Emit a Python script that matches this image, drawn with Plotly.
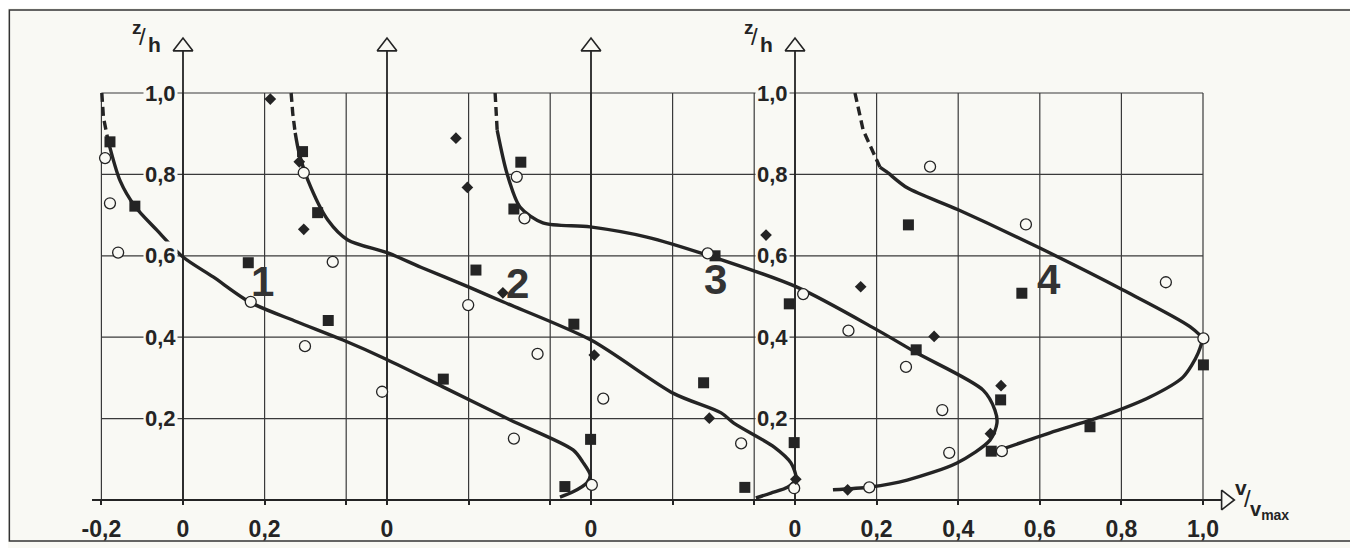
import plotly.graph_objects as go

PAPER = "#f9f9f4"
INK = "#242424"
FONT = "Liberation Sans, Arial, sans-serif"

# each profile sits on its own zero line along the shared v/vmax axis
offsets = [-1.5, -1.0, -0.5, 0.0]

# ---- profile 1
p1_dash_v = [-0.199, -0.195, -0.184]
p1_dash_z = [1.0, 0.94, 0.885]
p1_line_v = [-0.184, -0.154, -0.118, -0.064, 0.0, 0.074, 0.164, 0.279, 0.392, 0.498,
             0.637, 0.801, 0.956, 0.980, 0.998, 0.990, 0.956, 0.924]
p1_line_z = [0.885, 0.784, 0.722, 0.663, 0.597, 0.548, 0.486, 0.438, 0.393, 0.346,
             0.278, 0.197, 0.123, 0.093, 0.061, 0.042, 0.020, 0.007]
p1_sq_v = [-0.179, -0.118, 0.160, 0.356, 0.638, 0.999, 0.936]
p1_sq_z = [0.880, 0.722, 0.583, 0.441, 0.297, 0.149, 0.033]
p1_ci_v = [-0.191, -0.179, -0.159, 0.166, 0.299, 0.488, 0.811, 1.002]
p1_ci_z = [0.840, 0.729, 0.608, 0.487, 0.378, 0.266, 0.151, 0.037]
p1_di_v = []
p1_di_z = []

# ---- profile 2
p2_dash_v = [-0.235, -0.231, -0.225]
p2_dash_z = [1.0, 0.95, 0.902]
p2_line_v = [-0.225, -0.216, -0.194, -0.145, -0.096, 0.002, 0.083, 0.201, 0.284, 0.500,
             0.702, 0.819, 0.850, 0.949, 0.990, 1.002, 0.983, 0.941, 0.904]
p2_line_z = [0.902, 0.855, 0.786, 0.688, 0.639, 0.607, 0.572, 0.523, 0.487, 0.393,
             0.262, 0.214, 0.189, 0.130, 0.091, 0.054, 0.032, 0.017, 0.005]
p2_sq_v = [-0.207, -0.170, 0.218, 0.458, 0.776, 0.998, 0.877]
p2_sq_z = [0.856, 0.706, 0.565, 0.432, 0.288, 0.141, 0.031]
p2_ci_v = [-0.204, -0.133, 0.199, 0.369, 0.530, 0.868, 0.998]
p2_ci_z = [0.804, 0.585, 0.479, 0.359, 0.249, 0.139, 0.029]
p2_di_v = [-0.286, -0.215, -0.204, 0.284, 0.508, 0.790, 1.002]
p2_di_z = [0.985, 0.831, 0.665, 0.509, 0.356, 0.201, 0.051]

# ---- profile 3
p3_dash_v = [-0.235, -0.232, -0.230]
p3_dash_z = [1.0, 0.95, 0.909]
p3_line_v = [-0.230, -0.206, -0.174, -0.118, -0.002, 0.137, 0.284, 0.505, 0.701, 0.799,
             0.961, 0.990, 0.995, 0.978, 0.897, 0.775, 0.684, 0.593]
p3_line_z = [0.909, 0.803, 0.720, 0.681, 0.671, 0.646, 0.602, 0.523, 0.418, 0.361,
             0.270, 0.221, 0.189, 0.147, 0.091, 0.049, 0.032, 0.025]
p3_sq_v = [-0.172, -0.189, 0.304, 0.486, 0.797, 1.004]
p3_sq_z = [0.830, 0.715, 0.600, 0.482, 0.369, 0.246]
p3_ci_v = [-0.182, -0.163, 0.286, 0.520, 0.631, 0.772, 0.861, 0.878, 0.682]
p3_ci_z = [0.794, 0.692, 0.606, 0.506, 0.416, 0.327, 0.221, 0.116, 0.031]
p3_di_v = [-0.331, -0.303, 0.429, 0.661, 0.841, 1.005, 0.979, 0.629]
p3_di_z = [0.889, 0.768, 0.651, 0.524, 0.402, 0.281, 0.163, 0.025]

# ---- profile 4
p4_dash_v = [0.147, 0.167, 0.208]
p4_dash_z = [1.0, 0.909, 0.818]
p4_line_v = [0.208, 0.225, 0.275, 0.400, 0.600, 0.804, 0.968, 0.997, 0.988, 0.951,
             0.870, 0.748, 0.625, 0.502]
p4_line_z = [0.818, 0.806, 0.767, 0.713, 0.619, 0.516, 0.426, 0.397, 0.361, 0.302,
             0.253, 0.204, 0.165, 0.123]
p4_sq_v = [0.278, 0.556, 1.001, 0.723, 0.481]
p4_sq_z = [0.676, 0.508, 0.332, 0.180, 0.120]
p4_ci_v = [0.331, 0.566, 0.909, 1.001, 0.507]
p4_ci_z = [0.819, 0.677, 0.535, 0.397, 0.120]
p4_di_v = []
p4_di_z = []

# axis ticks / grid
grid_x = [-1.7, -1.5, -1.3, -1.1, -1.0, -0.8, -0.6, -0.5, -0.3, -0.1, 0.0, 0.2, 0.4, 0.6, 0.8, 1.0]
label_x = [-1.7, -1.5, -1.3, -1.0, -0.5, 0.0, 0.2, 0.4, 0.6, 0.8, 1.0]
label_x_text = ["-0,2", "0", "0,2", "0", "0", "0", "0,2", "0,4", "0,6", "0,8", "1,0"]
grid_z = [0.2, 0.4, 0.6, 0.8, 1.0]
grid_z_text = ["0,2", "0,4", "0,6", "0,8", "1,0"]
profile_names = ["1", "2", "3", "4"]
name_v = [0.194, 0.321, 0.306, 0.623]
name_z = [0.536, 0.533, 0.541, 0.541]

profiles = [
    (p1_dash_v, p1_dash_z, p1_line_v, p1_line_z, p1_sq_v, p1_sq_z, p1_ci_v, p1_ci_z, p1_di_v, p1_di_z),
    (p2_dash_v, p2_dash_z, p2_line_v, p2_line_z, p2_sq_v, p2_sq_z, p2_ci_v, p2_ci_z, p2_di_v, p2_di_z),
    (p3_dash_v, p3_dash_z, p3_line_v, p3_line_z, p3_sq_v, p3_sq_z, p3_ci_v, p3_ci_z, p3_di_v, p3_di_z),
    (p4_dash_v, p4_dash_z, p4_line_v, p4_line_z, p4_sq_v, p4_sq_z, p4_ci_v, p4_ci_z, p4_di_v, p4_di_z),
]


def shift(vals, off):
    return [v + off for v in vals]


fig = go.Figure()
shapes = []

# grid
for gx in grid_x:
    shapes.append(dict(type="line", xref="x", yref="y", x0=gx, x1=gx, y0=0, y1=1.0,
                       line=dict(color="#3a3a3a", width=1.2), layer="below"))
for gz in grid_z:
    shapes.append(dict(type="line", xref="x", yref="y", x0=grid_x[0], x1=grid_x[-1], y0=gz, y1=gz,
                       line=dict(color="#3a3a3a", width=1.2), layer="below"))
# profile axes
for off in offsets:
    shapes.append(dict(type="line", xref="x", yref="y", x0=off, x1=off, y0=0, y1=1.106,
                       line=dict(color=INK, width=1.8), layer="below"))
# v/vmax axis
shapes.append(dict(type="line", xref="x", yref="y", x0=-1.723, x1=1.047, y0=0, y1=0,
                   line=dict(color=INK, width=2), layer="below"))
# frame
shapes.append(dict(type="rect", xref="paper", yref="paper", x0=0.001, x1=0.9956, y0=0.013, y1=0.9963,
                   line=dict(color="#333333", width=1.5), layer="below"))

# arrow heads
fig.add_trace(go.Scatter(x=offsets, y=[1.114] * 4, mode="markers", hoverinfo="skip",
                         marker=dict(symbol="triangle-up", size=17, color=PAPER,
                                     line=dict(color=INK, width=1.6))))
fig.add_trace(go.Scatter(x=[1.056], y=[0], mode="markers", hoverinfo="skip",
                         marker=dict(symbol="triangle-right", size=17, color=PAPER,
                                     line=dict(color=INK, width=1.6))))

for off, (dv, dz, lv, lz, sv, sz, cv, cz, qv, qz) in zip(offsets, profiles):
    fig.add_trace(go.Scatter(x=shift(dv, off), y=dz, mode="lines",
                             line=dict(color=INK, width=3.4, dash="9px,5px")))
    fig.add_trace(go.Scatter(x=shift(lv, off), y=lz, mode="lines",
                             line=dict(color=INK, width=3.4, shape="spline", smoothing=0.8)))
    fig.add_trace(go.Scatter(x=shift(sv, off), y=sz, mode="markers",
                             marker=dict(symbol="square", size=11, color=INK)))
    fig.add_trace(go.Scatter(x=shift(cv, off), y=cz, mode="markers",
                             marker=dict(symbol="circle", size=11, color=PAPER,
                                         line=dict(color=INK, width=1.3))))
    if qv:
        fig.add_trace(go.Scatter(x=shift(qv, off), y=qz, mode="markers",
                                 marker=dict(symbol="diamond", size=9, color=INK)))

ann = []
# z/h tick labels on profile 1 and profile 4 axes
for off in (offsets[0], offsets[3]):
    for gz, txt in zip(grid_z, grid_z_text):
        ann.append(dict(x=off - 0.013, y=gz, xref="x", yref="y", text=txt, showarrow=False,
                        xanchor="right", yanchor="middle", bgcolor=PAPER, borderpad=1,
                        font=dict(family=FONT, size=22, color=INK, weight="bold")))
    ann.append(dict(x=off - 0.113, y=1.162, xref="x", yref="y", text="z", showarrow=False,
                    font=dict(family=FONT, size=19, color=INK, weight="bold")))
    ann.append(dict(x=off - 0.100, y=1.140, xref="x", yref="y", text="/", showarrow=False,
                    font=dict(family=FONT, size=24, color=INK)))
    ann.append(dict(x=off - 0.069, y=1.118, xref="x", yref="y", text="h", showarrow=False,
                    font=dict(family=FONT, size=21, color=INK, weight="bold")))

# v/vmax label
ann.append(dict(x=1.093, y=0.030, xref="x", yref="y", text="v", showarrow=False,
                font=dict(family=FONT, size=21, color=INK, weight="bold")))
ann.append(dict(x=1.108, y=0.004, xref="x", yref="y", text="/", showarrow=False,
                font=dict(family=FONT, size=24, color=INK)))
ann.append(dict(x=1.110, y=-0.027, xref="x", yref="y", text="v<sub>max</sub>", showarrow=False,
                xanchor="left", font=dict(family=FONT, size=20, color=INK, weight="bold")))

# profile numbers
for off, name, nv, nz in zip(offsets, profile_names, name_v, name_z):
    ann.append(dict(x=off + nv, y=nz, xref="x", yref="y", text=name, showarrow=False,
                    font=dict(family=FONT, size=42, color="#333333", weight="bold")))

# the page adds an 8px body margin, so the figure is 8px smaller and the ranges start there
fig.update_layout(
    template="none",
    width=1350,
    height=540,
    margin=dict(l=0, r=0, t=0, b=0),
    paper_bgcolor=PAPER,
    plot_bgcolor=PAPER,
    showlegend=False,
    shapes=shapes,
    annotations=ann,
    xaxis=dict(range=[-1.92892, 1.37990], anchor="free", position=48 / 540,
               showgrid=False, zeroline=False, showline=False, automargin=False,
               ticks="outside", ticklen=4, tickwidth=1.5, tickcolor=INK,
               tickvals=label_x, ticktext=label_x_text, ticklabelstandoff=4,
               minor=dict(tickvals=grid_x, ticks="outside", ticklen=4, tickwidth=1.5,
                          tickcolor=INK, showgrid=False),
               tickfont=dict(family=FONT, size=23, color=INK, weight="bold")),
    yaxis=dict(range=[-0.11794, 1.20885], visible=False, automargin=False),
)

fig.write_html("out.html")
